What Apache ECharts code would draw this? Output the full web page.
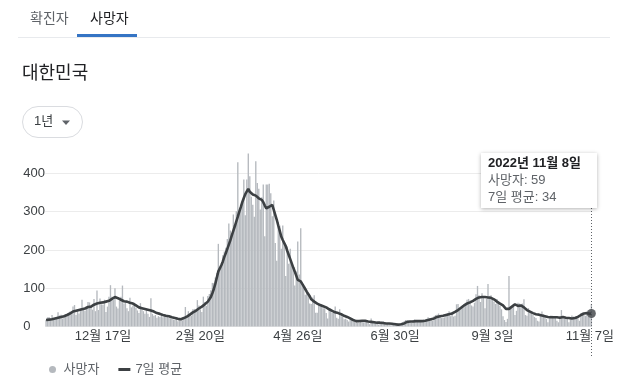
<!DOCTYPE html>
<html><head><meta charset="utf-8">
<script src="https://cdn.jsdelivr.net/npm/echarts@6/dist/echarts.min.js"></script>
<style>html,body{margin:0;padding:0;background:#fff}#c{width:617px;height:391px}</style>
</head><body><div id="c"></div>
<script>
// ---- data (daily deaths, 대한민국, 2021-11-09 .. 2022-11-08) ----
const startDate = '2021-11-09';
const tickLabels = ['12월 17일', '2월 20일', '4월 26일', '6월 30일', '9월 3일', '11월 7일'];
const yTicks = [0, 100, 200, 300, 400];

const deathsNov21 = [17, 24, 25, 21, 30, 19, 20, 20, 37, 29, 31, 21, 30, 32, 30, 34, 39, 39, 52, 56, 30, 44];
const deathsDec21 = [34, 47, 70, 43, 41, 48, 64, 63, 53, 44, 72, 40, 94, 43, 73, 58, 57, 70, 38, 52, 78, 108, 78, 69, 100, 52, 47, 68, 78, 107, 60];
const deathsJan22 = [63, 48, 40, 75, 50, 55, 62, 49, 42, 35, 61, 45, 40, 33, 45, 33, 25, 74, 33, 28, 30, 23, 27, 25, 33, 24, 32, 31, 27, 23, 21];
const deathsFeb22 = [20, 18, 17, 25, 14, 22, 19, 16, 21, 51, 27, 40, 32, 28, 45, 46, 45, 69, 55, 45, 38, 78, 64, 54, 80, 85, 95, 114];
const deathsMar22 = [114, 128, 140, 216, 150, 161, 186, 196, 206, 229, 269, 251, 240, 293, 264, 301, 429, 301, 319, 327, 384, 291, 384, 452, 393, 339, 318, 287, 432, 375, 360];
const deathsApr22 = [306, 338, 371, 236, 371, 371, 373, 348, 288, 329, 218, 172, 273, 264, 203, 264, 218, 132, 209, 164, 203, 166, 158, 107, 144, 222, 136, 257, 115, 102];
const deathsMay22 = [83, 90, 84, 60, 59, 76, 82, 36, 36, 60, 54, 55, 48, 48, 35, 21, 48, 43, 36, 38, 52, 23, 20, 45, 27, 26, 19, 20, 17, 13, 23];
const deathsJun22 = [20, 14, 12, 13, 10, 9, 14, 15, 11, 13, 12, 9, 6, 21, 12, 9, 11, 8, 5, 7, 13, 14, 10, 6, 7, 6, 3, 5, 8, 10];
const deathsJul22 = [8, 6, 7, 9, 11, 14, 17, 15, 13, 12, 10, 17, 19, 14, 12, 15, 16, 11, 18, 17, 20, 24, 22, 22, 15, 27, 30, 31, 34, 28, 22];
const deathsAug22 = [23, 24, 29, 35, 40, 27, 38, 26, 28, 58, 59, 44, 49, 56, 52, 62, 70, 72, 68, 55, 52, 62, 84, 106, 82, 64, 87, 75, 48, 72, 111];
const deathsSep22 = [80, 82, 74, 65, 59, 72, 63, 54, 45, 27, 17, 12, 20, 132, 52, 48, 53, 30, 41, 62, 60, 57, 60, 71, 30, 28, 48, 37, 33, 30];
const deathsOct22 = [25, 22, 15, 13, 30, 39, 32, 25, 20, 11, 25, 29, 28, 22, 24, 15, 11, 27, 43, 25, 21, 22, 20, 11, 21, 29, 26, 22, 26, 20, 15];
const deathsNov22 = [34, 36, 30, 28, 37, 25, 23, 59];

const avgNov21 = [17, 17, 18, 18, 19, 20, 21, 22, 23, 24, 25, 26, 27, 28, 30, 32, 34, 37, 39, 40, 41, 42];
const avgDec21 = [43, 44, 45, 46, 47, 49, 51, 52, 52, 54, 57, 59, 60, 61, 62, 63, 63, 64, 65, 66, 67, 70, 72, 75, 77, 76, 74, 72, 70, 68, 66];
const avgJan22 = [64, 65, 63, 62, 61, 60, 58, 55, 52, 50, 49, 48, 47, 46, 45, 44, 43, 42, 40, 39, 37, 35, 34, 33, 31, 30, 29, 28, 28, 27, 26];
const avgFeb22 = [24, 23, 22, 21, 20, 20, 19, 20, 22, 24, 26, 28, 31, 34, 37, 39, 41, 44, 47, 49, 52, 55, 58, 61, 65, 70, 77, 87];
const avgMar22 = [98, 112, 128, 144, 152, 160, 170, 182, 192, 203, 214, 225, 238, 250, 262, 275, 287, 300, 312, 325, 336, 346, 353, 360, 352, 348, 345, 340, 342, 337, 335];
const avgApr22 = [333, 331, 325, 316, 309, 310, 313, 316, 318, 305, 292, 279, 264, 250, 235, 226, 218, 210, 198, 187, 176, 165, 154, 144, 133, 122, 120, 118, 115, 105];
const avgMay22 = [98, 91, 87, 79, 71, 68, 65, 62, 60, 58, 56, 54, 53, 52, 50, 48, 45, 43, 41, 39, 37, 36, 35, 34, 32, 30, 28, 26, 25, 23, 21];
const avgJun22 = [19, 17, 15, 14, 14, 14, 15, 15, 16, 15, 14, 13, 12, 12, 12, 11, 11, 10, 10, 10, 9, 9, 9, 8, 8, 8, 7, 7, 6, 6];
const avgJul22 = [6, 5, 5, 6, 7, 8, 10, 12, 13, 13, 13, 13, 14, 14, 13, 14, 14, 14, 14, 15, 16, 17, 18, 19, 20, 21, 23, 25, 26, 27, 28];
const avgAug22 = [28, 29, 30, 31, 32, 33, 34, 36, 38, 40, 43, 46, 49, 52, 55, 58, 60, 62, 63, 65, 67, 69, 72, 74, 76, 77, 77, 78, 77, 76, 76];
const avgSep22 = [76, 75, 74, 71, 68, 65, 62, 60, 58, 55, 50, 46, 43, 46, 49, 52, 55, 58, 55, 54, 56, 55, 52, 50, 46, 43, 40, 39, 37, 35];
const avgOct22 = [33, 32, 31, 31, 30, 29, 28, 27, 26, 25, 25, 24, 24, 24, 24, 24, 24, 23, 24, 25, 24, 23, 22, 22, 22, 21, 21, 22, 23, 25, 27];
const avgNov22 = [30, 32, 34, 35, 35, 34, 33, 34];

const deaths = [].concat(deathsNov21, deathsDec21, deathsJan22, deathsFeb22, deathsMar22, deathsApr22,
  deathsMay22, deathsJun22, deathsJul22, deathsAug22, deathsSep22, deathsOct22, deathsNov22);
const avg7 = [].concat(avgNov21, avgDec21, avgJan22, avgFeb22, avgMar22, avgApr22,
  avgMay22, avgJun22, avgJul22, avgAug22, avgSep22, avgOct22, avgNov22);

// category labels (dates)
const dates = [];
{
  const d0 = new Date(startDate + 'T00:00:00Z');
  for (let i = 0; i < deaths.length; i++) {
    const d = new Date(d0.getTime() + i * 86400000);
    dates.push({ y: d.getUTCFullYear(), m: d.getUTCMonth() + 1, d: d.getUTCDate() });
  }
}
const categories = dates.map(o => o.m + '월 ' + o.d + '일');

const FONT = "'Liberation Sans', Arial, 'Noto Sans CJK KR', sans-serif";
const chart = echarts.init(document.getElementById('c'), null, { renderer: 'canvas' });
const last = deaths.length - 1;

const option = {
  animation: false,
  backgroundColor: '#fff',
  textStyle: { fontFamily: FONT },
  grid: { left: 45.3, right: 21.7, top: 150.5, bottom: 64.5, containLabel: false },
  xAxis: {
    type: 'category',
    data: categories,
    boundaryGap: true,
    axisLine: { show: false },
    axisTick: { show: false },
    splitLine: { show: false },
    axisLabel: {
      interval: (i, v) => tickLabels.indexOf(v) >= 0,
      color: '#3c4043', fontSize: 13, fontFamily: FONT, margin: 3,
      hideOverlap: false
    }
  },
  yAxis: {
    type: 'value', min: 0, max: 460, interval: 100,
    axisLine: { show: false }, axisTick: { show: false },
    axisLabel: {
      color: '#3c4043', fontSize: 13, fontFamily: FONT, align: 'left', margin: 22,
      showMaxLabel: false,
      formatter: v => (yTicks.indexOf(v) >= 0 ? String(v) : '')
    },
    splitLine: { show: true, showMaxLine: false, lineStyle: { color: '#ececec', width: 1 } }
  },
  legend: {
    left: 44, top: 358,
    itemWidth: 12, itemHeight: 7, itemGap: 19,
    textStyle: { color: '#5f6368', fontSize: 13, fontFamily: FONT },
    selectedMode: false,
    data: [
      { name: '사망자', icon: 'circle' },
      { name: '7일 평균', icon: 'path://M0,0H12V3H0Z' }
    ]
  },
  series: [
    {
      name: '사망자', type: 'bar', data: deaths,
      barWidth: 1.35,
      itemStyle: { color: '#b5b9be' },
      emphasis: { disabled: true },
      z: 2
    },
    {
      name: '7일 평균', type: 'line', data: avg7,
      symbol: 'none', smooth: false,
      lineStyle: { color: '#3c4043', width: 2.6 },
      itemStyle: { color: '#3c4043' },
      emphasis: { disabled: true },
      z: 4
    },
    {
      name: 'pt', type: 'scatter', data: [[last, avg7[last]]],
      symbol: 'circle', symbolSize: 9,
      itemStyle: { color: '#3c4043' },
      z: 6
    }
  ],
  graphic: [
    { id: 'tab1', type: 'text', left: 30, top: 12, style: { text: '확진자', fill: '#5f6368', font: '14px ' + FONT } },
    { id: 'tab2', type: 'text', left: 90, top: 12, style: { text: '사망자', fill: '#202124', font: '14px ' + FONT } },
    { id: 'sep', type: 'rect', shape: { x: 18, y: 37, width: 592, height: 1 }, style: { fill: '#e8eaed' } },
    { id: 'ul', type: 'rect', shape: { x: 77, y: 34, width: 60, height: 3 }, style: { fill: '#3574c4' } },
    { id: 'title', type: 'text', left: 22, top: 65, style: { text: '대한민국', fill: '#202124', font: '18px ' + FONT } },
    { id: 'btn', type: 'rect', shape: { x: 22.5, y: 106.5, width: 60, height: 31, r: 15.5 }, style: { fill: '#fff', stroke: '#dadce0', lineWidth: 1 } },
    { id: 'btnt', type: 'text', left: 34, top: 115, style: { text: '1년', fill: '#3c4043', font: '13px ' + FONT } },
    { id: 'btna', type: 'polygon', shape: { points: [[62, 120.5], [70, 120.5], [66, 125]] }, style: { fill: '#5f6368' } }
  ]
};
chart.setOption(option);

const p = chart.convertToPixel({ gridIndex: 0 }, [last, avg7[last]]);
const cx = Math.round(p[0]) + 0.5;
const dl = dates[last];
chart.setOption({
  graphic: [
    { id: 'cross', type: 'line', z: 10, shape: { x1: cx, y1: 208, x2: cx, y2: 356 },
      style: { stroke: '#5f6368', lineWidth: 1, lineDash: [1, 2] } },
    { id: 'tipbox', type: 'rect', z: 20, shape: { x: 481, y: 153, width: 116, height: 55 },
      style: { fill: '#fff', shadowBlur: 4, shadowOffsetY: 1, shadowColor: 'rgba(0,0,0,0.3)' } },
    { id: 'tip1', type: 'text', z: 21, left: 488, top: 157,
      style: { text: dl.y + '년 ' + dl.m + '월 ' + dl.d + '일', fill: '#202124', font: 'bold 13px ' + FONT } },
    { id: 'tip2', type: 'text', z: 21, left: 488, top: 174,
      style: { text: '사망자: ' + deaths[last], fill: '#5f6368', font: '13px ' + FONT } },
    { id: 'tip3', type: 'text', z: 21, left: 488, top: 191,
      style: { text: '7일 평균: ' + avg7[last], fill: '#5f6368', font: '13px ' + FONT } }
  ]
});
</script>
</body></html>
